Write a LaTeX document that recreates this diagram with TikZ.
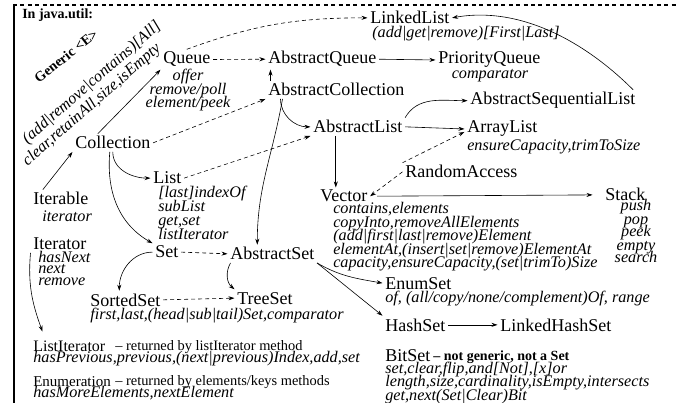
\documentclass[tikz,border=0pt]{standalone}
\usepackage{fontspec}
\setmainfont{Liberation Serif}
\usetikzlibrary{arrows.meta}

\begin{document}
\begin{tikzpicture}[
    x=1pt, y=-1pt,
    >={Stealth[length=6pt,width=4pt]},
    line width=0.6pt,
    cls/.style={
        font=\fontsize{#1}{20pt}\selectfont,
        inner sep=2.5pt,
        anchor=base west
    },
    cls/.default=18pt,
    ops/.style={
        font={\fontsize{16.2pt}{#1}\selectfont\itshape\lineskiplimit=-100pt},
        inner sep=1pt,
        align=left,
        anchor=base west
    },
    ops/.default=13.5pt,
    note/.style={
        font=\fontsize{14.4pt}{15pt}\selectfont,
        inner sep=1pt,
        anchor=base west
    },
    impl/.style={dashed, dash pattern=on 4pt off 3pt}
]
\useasboundingbox (0,0) rectangle (677,403);

% frame of the slide
\draw[line width=1.5pt, dash pattern=on 4pt off 3.4pt] (13,5) -- (677,5);
\draw[line width=2.5pt] (14,4) -- (14,403);

\node[note, font=\fontsize{14pt}{15pt}\selectfont\bfseries] (pkg) at (21,19) {In java.util:};
\node[font=\fontsize{14pt}{15pt}\selectfont\bfseries, rotate=38] (generic) at (66,56) {Generic <E>};
\node[ops, anchor=center, rotate=41] (collopsa) at (92,83) {(add|remove|contains)[All]};
\node[ops, anchor=center, rotate=41] (collopsb) at (92,105) {clear,retainAll,size,isEmpty};

% interfaces (multi-line texts sit on the baseline of their last line)
\node[cls] (iterable) at (30.5,205) {Iterable};
\node[ops] (iterableops) at (41,222) {iterator};
\node[cls] (collection) at (72.5,149) {Collection};
\node[cls] (queue) at (160.5,64) {Queue};
\node[ops, align=center, anchor=base] (queueops) at (188,108) {offer\\remove/poll\\element/peek};
\node[cls] (list) at (150.5,184) {List};
\node[ops=14pt] (listops) at (157,240) {[last]indexOf\\subList\\get,set\\listIterator};
\node[cls] (set) at (152.5,258) {Set};
\node[cls] (sortedset) at (87.5,306) {SortedSet};
\node[ops] (sortedsetops) at (89,319) {first,last,(head|sub|tail)Set,comparator};
\node[cls] (iterator) at (30.5,250) {Iterator};
\node[ops=12pt] (iteratorops) at (37,286) {hasNext\\next\\remove};
\node[cls=16pt] (listiterator) at (30.5,351) {ListIterator};
\node[note] (listiteratornote) at (114,350) {-- returned by listIterator method};
\node[ops] (listiteratorops) at (32,362) {hasPrevious,previous,(next|previous)Index,add,set};
\node[cls=15pt] (enumeration) at (30.5,386) {Enumeration};
\node[note] (enumerationnote) at (114,385) {-- returned by elements/keys methods};
\node[ops] (enumerationops) at (32,397) {hasMoreElements,nextElement};

% abstract and concrete classes
\node[cls] (abstractqueue) at (265.5,64) {AbstractQueue};
\node[cls] (priorityqueue) at (435.5,64) {PriorityQueue};
\node[ops, anchor=base] (priorityqueueops) at (490,79) {comparator};
\node[cls] (linkedlist) at (367.5,24) {LinkedList};
\node[ops] (linkedlistops) at (371,38) {(add|get|remove)[First|Last]};
\node[cls] (abstractcollection) at (265.5,96) {AbstractCollection};
\node[cls] (abstractseqlist) at (467.5,105) {AbstractSequentialList};
\node[cls] (abstractlist) at (310.5,133) {AbstractList};
\node[cls] (arraylist) at (464.5,133) {ArrayList};
\node[ops] (arraylistops) at (466,151) {ensureCapacity,trimToSize};
\node[cls, fill=white] (randomaccess) at (402.5,178) {RandomAccess};
\node[cls] (vector) at (317.5,202) {Vector};
\node[ops] (vectorops) at (332,268) {contains,elements\\copyInto,removeAllElements\\(add|first|last|remove)Element\\elementAt,(insert|set|remove)ElementAt\\capacity,ensureCapacity,(set|trimTo)Size};
\node[cls] (stack) at (602.5,201) {Stack};
\node[ops=13pt, align=center, anchor=base] (stackops) at (636,263) {push\\pop\\peek\\empty\\search};
\node[cls] (abstractset) at (227.5,260) {AbstractSet};
\node[cls] (treeset) at (234.5,304) {TreeSet};
\node[cls] (enumset) at (382.5,289) {EnumSet};
\node[ops] (enumsetops) at (384,302) {of, (all/copy/none/complement)Of, range};
\node[cls] (hashset) at (382.5,331) {HashSet};
\node[cls] (linkedhashset) at (497.5,331) {LinkedHashSet};
\node[cls] (bitset) at (382.5,361) {BitSet};
\node[note, font=\fontsize{14pt}{15pt}\selectfont\bfseries] (bitsetnote) at (432,360) {-- not generic, not a Set};
\node[ops] (bitsetops) at (384,400) {set,clear,flip,and[Not],[x]or\\length,size,cardinality,isEmpty,intersects\\get,next(Set|Clear)Bit};

% interface inheritance
\draw[->] ([xshift=-18]iterable.north) -- (collection.south west);
\draw[->] ([xshift=-15]collection.north) -- (queue.south west);
\draw[->] (collection.south) to[out=-90, in=180] (list.west);
\draw[->] ([xshift=-3]collection.south) to[out=-95, in=150] (set.north west);
\draw[->] (set.west) to[out=180, in=90] ([xshift=-6]sortedset.north);
\draw[->] (iterator.south west) to[out=-95, in=110] ([xshift=12,yshift=6]listiterator.north west);

% implementations
\draw[impl, ->] (queue.east) -- (abstractqueue.west);
\draw[impl, ->] (queue.north) to[out=20, in=180] (linkedlist.west);
\draw[impl, ->] (collection.east) -- (abstractcollection.south west);
\draw[impl, ->] (list.east) -- (abstractlist.south west);
\draw[impl, ->] (set.east) -- (abstractset.west);
\draw[impl, ->] (sortedset.east) -- (treeset.west);
\draw[impl, ->] (randomaccess.north west) -- ([yshift=-3]arraylist.west);
\draw[impl, ->] (randomaccess.west) -- (vector.east);

% class inheritance
\draw[->] ([xshift=5]abstractcollection.north west) -- ([xshift=5]abstractqueue.south west);
\draw[->] (abstractqueue.east) -- (priorityqueue.west);
\draw[->] ([xshift=15]abstractcollection.south west) to[out=-90, in=180] (abstractlist.west);
\draw[->] ([xshift=17]abstractcollection.south west) to[out=-100, in=90] ([xshift=-15]abstractset.north);
\draw[->] (abstractlist.north east) to[out=60, in=180] (abstractseqlist.west);
\draw[->] ([xshift=-5]abstractseqlist.north east) to[out=135, in=10, looseness=0.9] (linkedlist.east);
\draw[->] (abstractlist.east) -- (arraylist.west);
\draw[->] ([xshift=-22]abstractlist.south) -- ([xshift=-22]abstractlist.south |- vector.north);
\draw[->, shorten <=7pt, shorten >=10pt] (vector.east) -- (stack.west);
\draw[->] ([xshift=3]abstractset.south west) to[out=240, in=140] (treeset.north west);
\draw[->] (abstractset.south east) to[out=-30, in=170] (enumset.west);
\draw[->] (abstractset.south east) -- (hashset.north west);
\draw[->] (hashset.east) -- (linkedhashset.west);

\end{tikzpicture}
\end{document}
